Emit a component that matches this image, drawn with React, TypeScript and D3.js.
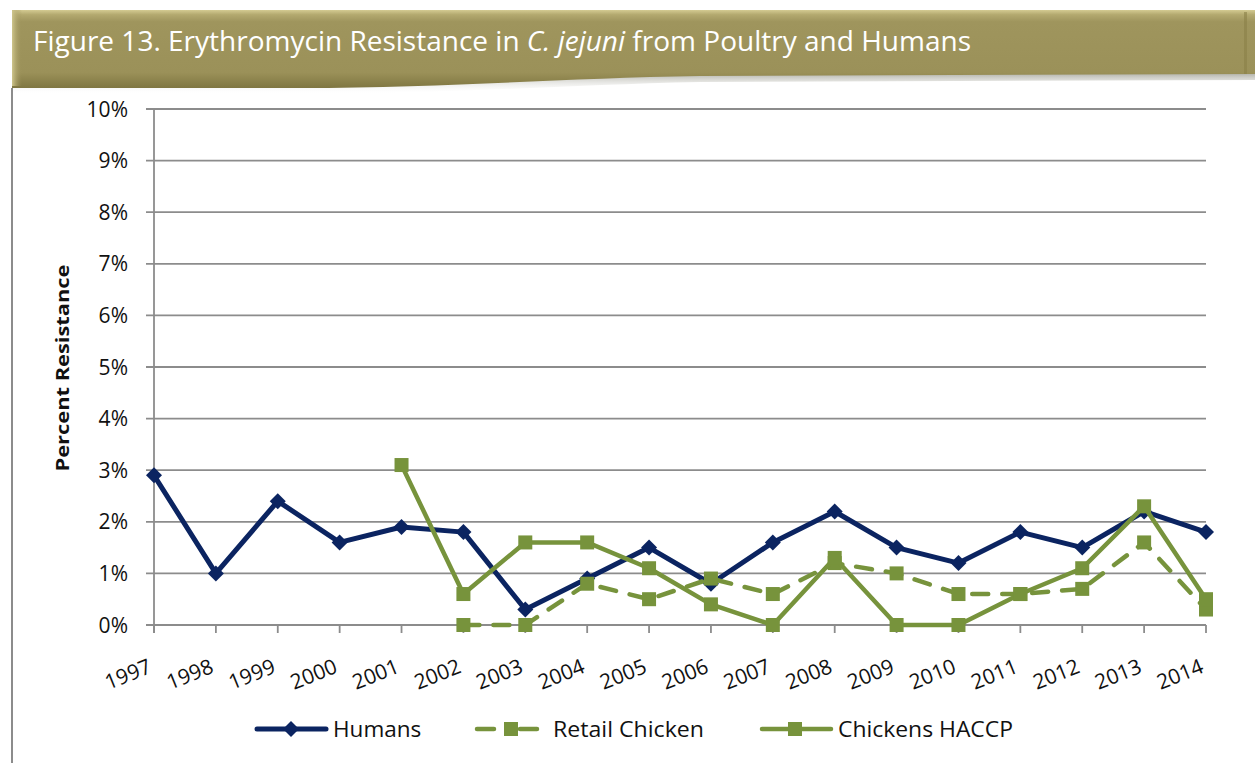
import React from "react";
import * as d3 from "d3";

const years = ["1997","1998","1999","2000","2001","2002","2003","2004","2005","2006","2007","2008","2009","2010","2011","2012","2013","2014"];
const humans: (number | null)[] = [2.9,1.0,2.4,1.6,1.9,1.8,0.3,0.9,1.5,0.8,1.6,2.2,1.5,1.2,1.8,1.5,2.2,1.8];
const retailChicken: (number | null)[] = [null,null,null,null,null,0,0,0.8,0.5,0.9,0.6,1.2,1.0,0.6,0.6,0.7,1.6,0.3];
const chickensHACCP: (number | null)[] = [null,null,null,null,3.1,0.6,1.6,1.6,1.1,0.4,0.0,1.3,0,0,0.6,1.1,2.3,0.5];
const yTicks = [0,1,2,3,4,5,6,7,8,9,10];

const NAVY = "#0b2461";
const GREEN = "#77933c";
const GRID = "#8c8c8c";
const FONT = "'Open Sans', sans-serif";

export default function App() {
  const x = d3.scalePoint<string>().domain(years).range([154, 1206]);
  const y = d3.scaleLinear().domain([0, 10]).range([625, 109]);

  const line = d3
    .line<number | null>()
    .defined((d) => d !== null)
    .x((_, i) => x(years[i]) as number)
    .y((d) => y(d as number));

  const diamond = (cx: number, cy: number, r: number) =>
    `M${cx},${cy - r}L${cx + r},${cy}L${cx},${cy + r}L${cx - r},${cy}Z`;

  const squares = (vals: (number | null)[], key: string) =>
    vals.map((d, i) =>
      d === null ? null : (
        <rect key={key + i} x={(x(years[i]) as number) - 7} y={y(d) - 7} width={14} height={14} fill={GREEN} />
      )
    );

  return (
    <svg width={1255} height={763} style={{ position: "absolute", left: 0, top: 0, background: "#fff" }}>
      <defs>
        <linearGradient id="bannerG" x1="0" y1="0" x2="0" y2="1">
          <stop offset="0" stopColor="#d4cb92" />
          <stop offset="0.06" stopColor="#b3a96f" />
          <stop offset="0.15" stopColor="#9f955d" />
          <stop offset="0.8" stopColor="#9b9159" />
          <stop offset="1" stopColor="#7f7641" />
        </linearGradient>
        <linearGradient id="shadowG" x1="0" y1="0" x2="0" y2="1">
          <stop offset="0" stopColor="#7a7a6a" stopOpacity="0.6" />
          <stop offset="1" stopColor="#ffffff" stopOpacity="0" />
        </linearGradient>
        <linearGradient id="leftBevel" x1="0" y1="0" x2="1" y2="0">
          <stop offset="0" stopColor="#cfc68c" />
          <stop offset="1" stopColor="#9d935b" stopOpacity="0" />
        </linearGradient>
      </defs>

      {/* banner shadow */}
      <path d="M12,86 L300,86 C450,86 560,78 700,75 L1255,73 L1255,80 L700,82 C560,85 450,94 300,94 L12,94 Z" fill="url(#shadowG)" />
      {/* banner */}
      <path d="M12,10 L1255,10 L1255,74 L700,76 C560,78 450,88 300,88 L12,88 Z" fill="url(#bannerG)" />
      <rect x={12} y={10} width={10} height={76} fill="url(#leftBevel)" />
      <rect x={1244} y={12} width={3} height={62} fill="#8a8048" opacity={0.6} />
      <text x={33} y={51} fill="#fff" fontFamily={FONT} fontSize={26.5} textLength={938} lengthAdjust="spacingAndGlyphs">
        Figure 13. Erythromycin Resistance in <tspan fontStyle="italic">C. jejuni</tspan> from Poultry and Humans
      </text>

      {/* left border */}
      <line x1={12} y1={88} x2={12} y2={763} stroke="#8c8c8c" strokeWidth={2} />

      {/* grid + y ticks */}
      {yTicks.map((t) => (
        <g key={"yt" + t}>
          <line x1={146} x2={1206} y1={y(t)} y2={y(t)} stroke={GRID} strokeWidth={1.8} />
          <text x={128} y={y(t) + 7.5} textAnchor="end" fontFamily={FONT} fontSize={21} fill="#111">
            {t}%
          </text>
        </g>
      ))}
      <line x1={154} x2={154} y1={109} y2={633} stroke={GRID} strokeWidth={1.8} />
      {years.map((yr) => (
        <g key={"xt" + yr}>
          <line x1={x(yr)} x2={x(yr)} y1={625} y2={633} stroke={GRID} strokeWidth={1.8} />
          <text
            transform={`translate(${(x(yr) as number) - 1},672) rotate(-22)`}
            textAnchor="end"
            fontFamily={FONT}
            fontSize={21}
            fill="#111"
          >
            {yr}
          </text>
        </g>
      ))}

      <text
        transform="translate(69,368) rotate(-90)"
        textAnchor="middle"
        fontFamily={FONT}
        fontWeight="bold"
        fontSize={17}
        fill="#111"
        textLength={207}
        lengthAdjust="spacingAndGlyphs"
      >
        Percent Resistance
      </text>

      {/* Humans */}
      <path d={line(humans) || ""} fill="none" stroke={NAVY} strokeWidth={5} strokeLinejoin="round" />
      {humans.map((d, i) =>
        d === null ? null : <path key={"h" + i} d={diamond(x(years[i]) as number, y(d), 8)} fill={NAVY} />
      )}

      {/* Retail Chicken */}
      <path
        d={line(retailChicken) || ""}
        fill="none"
        stroke={GREEN}
        strokeWidth={4.5}
        strokeDasharray="16,14"
        strokeLinecap="round"
      />
      {squares(retailChicken, "r")}

      {/* Chickens HACCP */}
      <path d={line(chickensHACCP) || ""} fill="none" stroke={GREEN} strokeWidth={4.5} strokeLinejoin="round" />
      {squares(chickensHACCP, "c")}

      {/* legend */}
      <g>
        <line x1={257} x2={326} y1={729} y2={729} stroke={NAVY} strokeWidth={5} strokeLinecap="round" />
        <path d={diamond(291, 729, 8)} fill={NAVY} />
        <text x={333} y={737} fontFamily={FONT} fontSize={22.5} fill="#111">Humans</text>

        <line x1={477} x2={537} y1={729} y2={729} stroke={GREEN} strokeWidth={4.5} strokeDasharray="17,26" strokeLinecap="round" />
        <rect x={504} y={722} width={14} height={14} fill={GREEN} />
        <text x={553} y={737} fontFamily={FONT} fontSize={22.5} fill="#111" textLength={151} lengthAdjust="spacingAndGlyphs">Retail Chicken</text>

        <line x1={762} x2={831} y1={729} y2={729} stroke={GREEN} strokeWidth={4.5} strokeLinecap="round" />
        <rect x={788} y={722} width={14} height={14} fill={GREEN} />
        <text x={838} y={737} fontFamily={FONT} fontSize={22.5} fill="#111" textLength={175} lengthAdjust="spacingAndGlyphs">Chickens HACCP</text>
      </g>
    </svg>
  );
}
